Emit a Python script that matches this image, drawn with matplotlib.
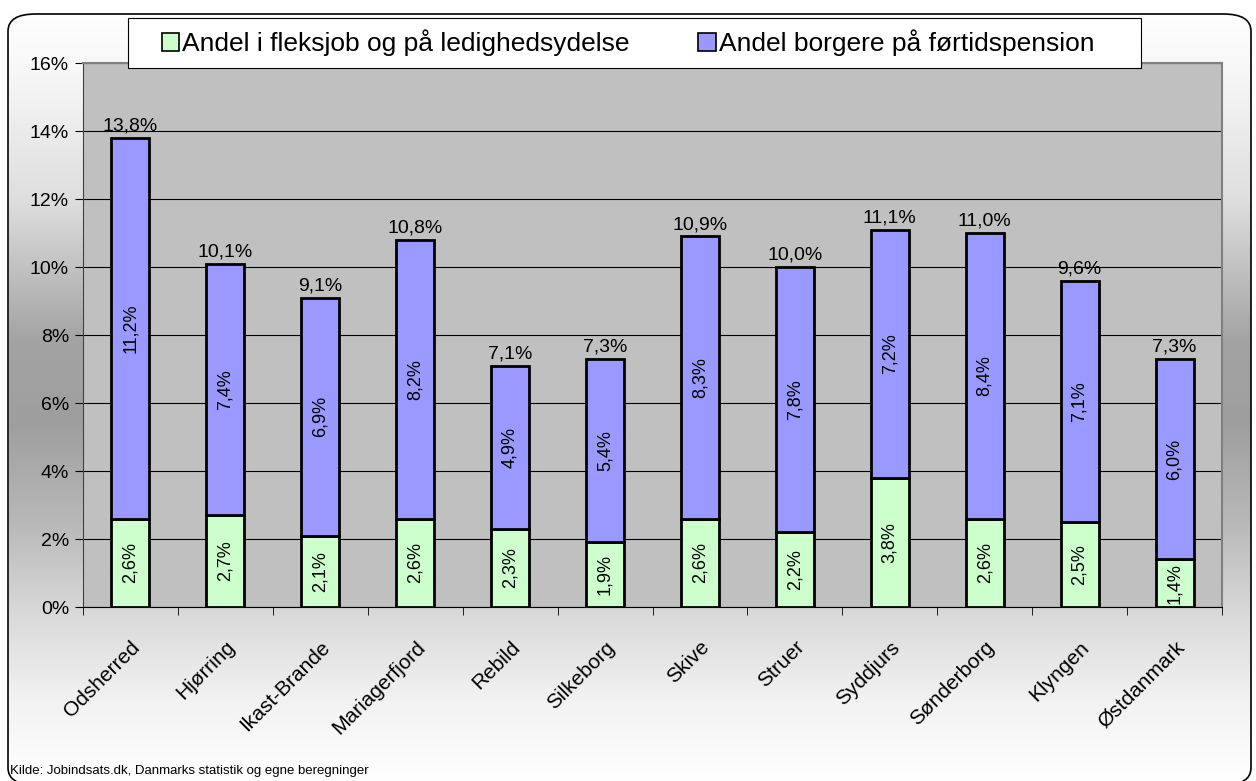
import matplotlib
matplotlib.use("Agg")
import matplotlib.pyplot as plt
import numpy as np
from matplotlib.patches import FancyBboxPatch, Rectangle

categories = ["Odsherred", "Hjørring", "Ikast-Brande", "Mariagerfjord", "Rebild",
              "Silkeborg", "Skive", "Struer", "Syddjurs", "Sønderborg", "Klyngen",
              "Østdanmark"]
fleksjob = [2.6, 2.7, 2.1, 2.6, 2.3, 1.9, 2.6, 2.2, 3.8, 2.6, 2.5, 1.4]
foertid = [11.2, 7.4, 6.9, 8.2, 4.9, 5.4, 8.3, 7.8, 7.2, 8.4, 7.1, 6.0]
total = [13.8, 10.1, 9.1, 10.8, 7.1, 7.3, 10.9, 10.0, 11.1, 11.0, 9.6, 7.3]
series_names = ["Andel i fleksjob og på ledighedsydelse", "Andel borgere på førtidspension"]
source = "Kilde: Jobindsats.dk, Danmarks statistik og egne beregninger"
yticks = [0, 2, 4, 6, 8, 10, 12, 14, 16]

plt.rcParams['font.family'] = ["Liberation Sans", "DejaVu Sans"]

W, H = 1256, 781
fig = plt.figure(figsize=(W / 100, H / 100), dpi=100)
fig.patch.set_facecolor("white")

# background gradient (vertical)
ys = np.array([0, 70, 200, 340, 420, 520, 620, 700, 781])
vs = np.array([1.0, 0.97, 0.87, 0.64, 0.62, 0.72, 0.86, 0.95, 1.0])
col = np.interp(np.arange(H), ys, vs)
grad = np.repeat(col[:, None], W, axis=1)
grad[:14, :] = 1.0
grad[:, :9] = 1.0
grad[:, 1251:] = 1.0
rgb = np.dstack([grad, grad, grad])
bg = fig.add_axes([0, 0, 1, 1], zorder=-10)
bg.axis("off")
bg.imshow(rgb, aspect="auto", interpolation="nearest", extent=[0, W, H, 0])
bg.set_xlim(0, W); bg.set_ylim(H, 0)

frame = FancyBboxPatch((8 / W, -4 / H), (1251 - 8) / W, (H - 14 + 4) / H,
                       boxstyle="round,pad=0,rounding_size=0.022", transform=fig.transFigure,
                       facecolor="none", edgecolor="black", lw=1.2, zorder=3)
fig.patches.append(frame)

ax = fig.add_axes([83 / W, 1 - 607 / H, (1222 - 83) / W, (607 - 63) / H])
ax.set_facecolor("#c0c0c0")
x = np.arange(len(categories))
upper = [t - f for t, f in zip(total, fleksjob)]
b1 = ax.bar(x, fleksjob, width=0.4, color="#ccffcc", edgecolor="black", lw=2, zorder=3,
            label=series_names[0])
b2 = ax.bar(x, upper, bottom=fleksjob, width=0.4, color="#9999ff", edgecolor="black", lw=2,
            zorder=3, label=series_names[1])

def fmt(v):
    return f"{v:.1f}%".replace(".", ",")

for i in range(len(categories)):
    ax.text(x[i], fleksjob[i] / 2, fmt(fleksjob[i]), rotation=90, ha="center", va="center",
            fontsize=13, zorder=4)
    ax.text(x[i], fleksjob[i] + upper[i] / 2, fmt(foertid[i]), rotation=90, ha="center",
            va="center", fontsize=13, zorder=4)
    ax.text(x[i], total[i] + 0.1, fmt(total[i]), ha="center", va="bottom", fontsize=14,
            zorder=4)

ax.set_ylim(0, 16)
ax.set_xlim(-0.5, len(categories) - 0.5)
ax.set_yticks(yticks)
ax.set_yticklabels([f"{v}%" for v in yticks], fontsize=14)
ax.yaxis.grid(True, color="black", lw=0.8)
ax.set_axisbelow(True)
ax.set_xticks(x)
ax.set_xticklabels(categories, rotation=45, ha="right", rotation_mode="anchor", fontsize=15)
ax.tick_params(axis="x", length=0, pad=22)
ax.set_xticks(np.arange(-0.5, len(categories), 1), minor=True)
ax.tick_params(axis="x", which="minor", length=6, direction="out")
ax.tick_params(axis="y", length=6, pad=4)
for s in ["top", "right"]:
    ax.spines[s].set_color("#808080")
    ax.spines[s].set_linewidth(1.5)
ax.spines["left"].set_color("#404040")
ax.spines["bottom"].set_color("black")

# legend box
fig.patches.append(Rectangle((128 / W, 1 - 68 / H), (1141 - 128) / W, 50 / H,
                             transform=fig.transFigure, facecolor="white", edgecolor="black",
                             lw=0.8, zorder=4))
leg = fig.legend(handles=[b1, b2], loc="center left", bbox_to_anchor=(162 / W, 1 - 43 / H),
                 ncol=2, frameon=False, fontsize=19,
                 handlelength=0.65, handleheight=0.7, handletextpad=0.12, columnspacing=2.6,
                 borderpad=0, borderaxespad=0)
leg.set_zorder(6)
for h in leg.legend_handles:
    h.set_linewidth(1.2)

fig.text(10 / W, 1 - 771 / H, source, fontsize=9.5, va="center", ha="left")

fig.savefig("out.png", dpi=100)
